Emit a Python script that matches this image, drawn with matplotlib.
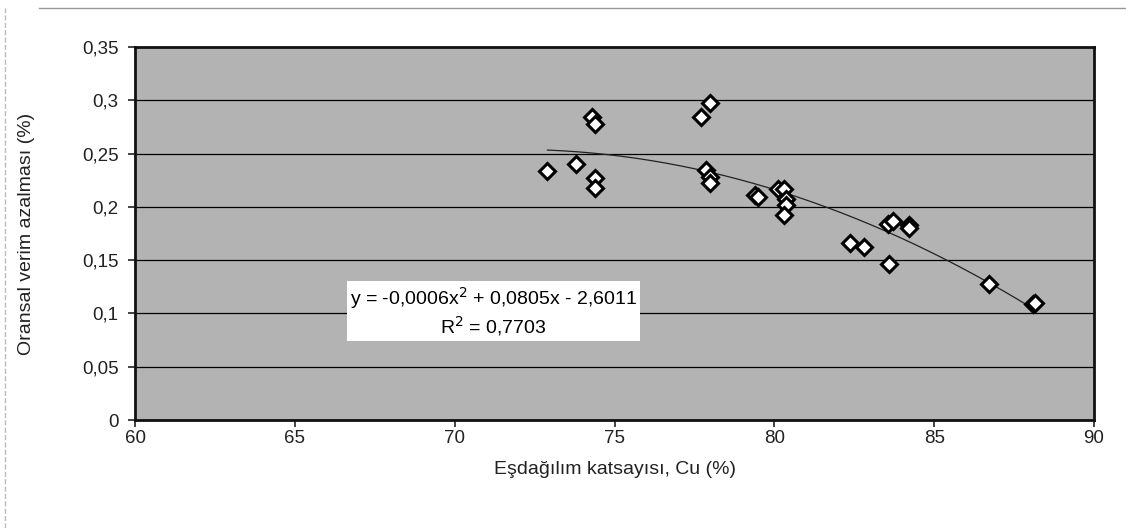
import numpy as np
import matplotlib.pyplot as plt
from matplotlib.lines import Line2D

plt.rcParams['font.family'] = ['Liberation Sans', 'DejaVu Sans']

# Eşdağılım katsayısı (Cu, %) ve oransal verim azalması (%)
cu = [72.9, 73.8, 74.3, 74.4, 74.4, 74.4, 77.7, 78.0, 77.85, 78.0, 78.0,
      79.4, 79.5, 80.1, 80.3, 80.35, 80.35, 80.3, 82.35, 82.8, 83.55, 83.7,
      84.2, 84.2, 83.6, 86.7, 88.1, 88.15]
verim = [0.234, 0.240, 0.284, 0.278, 0.227, 0.218, 0.284, 0.297, 0.235, 0.228, 0.222,
         0.211, 0.209, 0.217, 0.217, 0.207, 0.202, 0.192, 0.166, 0.162, 0.184, 0.187,
         0.183, 0.180, 0.146, 0.128, 0.109, 0.110]

x_ticks = [60, 65, 70, 75, 80, 85, 90]
y_ticks = [0, 0.05, 0.1, 0.15, 0.2, 0.25, 0.3, 0.35]
y_labels = ['0', '0,05', '0,1', '0,15', '0,2', '0,25', '0,3', '0,35']

fig = plt.figure(figsize=(11.26, 5.28), dpi=100)
ax = fig.add_axes([0.12, 0.2045, 0.8516, 0.7065])
ax.set_facecolor('#b3b3b3')

# ikinci derece trend eğrisi
coef = np.polyfit(cu, verim, 2)
xs = np.linspace(min(cu), max(cu), 200)
ax.plot(xs, np.polyval(coef, xs), color='#222222', lw=0.9, zorder=2)

ax.plot(cu, verim, linestyle='none', marker='D', markersize=8.5,
        markerfacecolor='white', markeredgecolor='black', markeredgewidth=2.2, zorder=3)

ax.set_xlim(60, 90)
ax.set_ylim(0, 0.35)
ax.set_xticks(x_ticks)
ax.set_yticks(y_ticks)
ax.set_yticklabels(y_labels)
ax.grid(axis='y', color='black', lw=0.9)
ax.set_axisbelow(True)
ax.tick_params(direction='out', length=5, width=1.2, labelsize=13.5, colors='#222222')
ax.tick_params(axis='x', pad=2)
ax.tick_params(axis='y', pad=7)
for s in ax.spines.values():
    s.set_linewidth(2)
    s.set_color('#111111')

ax.set_xlabel('Eşdağılım katsayısı, Cu (%)', fontsize=14, labelpad=10, color='#222222')
ax.set_ylabel('Oransal verim azalması (%)', fontsize=14, labelpad=34, color='#222222')

ax.text(0.374, 0.29, 'y = -0,0006x$^2$ + 0,0805x - 2,6011\nR$^2$ = 0,7703',
        transform=ax.transAxes, ha='center', va='center', fontsize=14, linespacing=1.15,
        bbox=dict(boxstyle='square,pad=0.15', facecolor='white', edgecolor='none'), zorder=4)

# sayfa kenar çizgileri
fig.add_artist(Line2D([0.035, 1.0], [0.985, 0.985], transform=fig.transFigure, color='#999999', lw=1))
fig.add_artist(Line2D([0.004, 0.004], [0.0, 0.985], transform=fig.transFigure, color='#bbbbbb', lw=1, ls='--'))

fig.savefig('out.png', dpi=100)
